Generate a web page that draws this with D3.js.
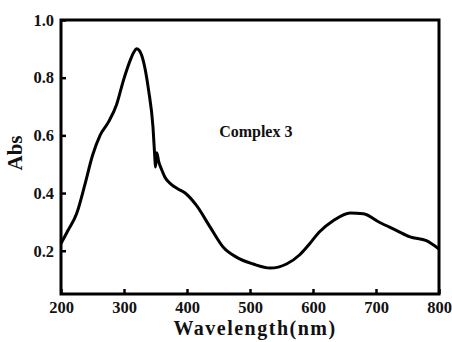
<!DOCTYPE html>
<html>
<head>
<meta charset="utf-8">
<script src="https://cdn.jsdelivr.net/npm/d3@7"></script>
<style>
  html, body { margin: 0; padding: 0; background: #fff; }
  svg { display: block; }
  .axis line { stroke: #000; stroke-width: 2.5px; }
  .axis path { display: none; }
</style>
</head>
<body>
<div id="chart"></div>
<script>
// values
var wavelength = [200, 211, 225, 238, 250, 262, 275, 288, 299, 310, 316, 320, 324, 328, 339, 346,
  349, 350, 352, 355, 360, 365, 375, 385, 397, 415, 437, 458, 479, 505, 532, 558, 579, 595,
  610, 632, 659, 680, 706, 733, 754, 780, 800];
var absorbance = [0.225, 0.27, 0.33, 0.43, 0.53, 0.6, 0.645, 0.705, 0.79, 0.861, 0.89, 0.90, 0.895, 0.878, 0.757, 0.629,
  0.52, 0.49, 0.54, 0.51, 0.48, 0.455, 0.43, 0.415, 0.40, 0.357, 0.281, 0.211, 0.177, 0.154, 0.14, 0.154, 0.186, 0.225,
  0.265, 0.304, 0.331, 0.328, 0.298, 0.27, 0.248, 0.235, 0.206];
var xTicks = [200, 300, 400, 500, 600, 700, 800];
var yTicks = [0.2, 0.4, 0.6, 0.8, 1.0];
var xLabel = "Wavelength(nm)";
var yLabel = "Abs";
var seriesLabel = "Complex 3";

var svgWidth = 452, svgHeight = 342;
var margin = { top: 20, right: 13, bottom: 48, left: 61 };
var width = svgWidth - margin.left - margin.right;
var height = svgHeight - margin.top - margin.bottom;
var serif = "'Liberation Serif', 'Times New Roman', serif";

var x = d3.scaleLinear().domain([200, 800]).range([0, width]);
var y = d3.scaleLinear().domain([0.05, 1.0]).range([height, 0]);

var svg = d3.select("#chart").append("svg")
  .attr("width", svgWidth)
  .attr("height", svgHeight);

var g = svg.append("g")
  .attr("transform", "translate(" + margin.left + "," + margin.top + ")");

// inward ticks
g.append("g")
  .attr("class", "axis axis--x")
  .attr("transform", "translate(0," + height + ")")
  .call(d3.axisBottom(x).tickValues(xTicks).tickSize(-5).tickPadding(7).tickFormat(d3.format("d")))
  .attr("font-family", serif)
  .attr("font-size", 16.5)
  .attr("font-weight", "bold");

g.append("g")
  .attr("class", "axis axis--y")
  .call(d3.axisLeft(y).tickValues(yTicks).tickSize(-5).tickPadding(7).tickFormat(d3.format(".1f")))
  .attr("font-family", serif)
  .attr("font-size", 16.5)
  .attr("font-weight", "bold");

g.selectAll(".axis text").attr("fill", "#111");

// spectrum
var line = d3.line()
  .curve(d3.curveMonotoneX)
  .x(function(d) { return x(d[0]); })
  .y(function(d) { return y(d[1]); });

g.append("path")
  .datum(d3.zip(wavelength, absorbance))
  .attr("fill", "none")
  .attr("stroke", "#000")
  .attr("stroke-width", 3)
  .attr("stroke-linejoin", "round")
  .attr("d", line);

// frame
g.append("rect")
  .attr("width", width)
  .attr("height", height)
  .attr("fill", "none")
  .attr("stroke", "#000")
  .attr("stroke-width", 3);

g.append("text")
  .attr("x", x(451))
  .attr("y", y(0.595))
  .attr("font-family", serif)
  .attr("font-weight", "bold")
  .attr("font-size", 16)
  .attr("fill", "#111")
  .text(seriesLabel);

svg.append("text")
  .attr("x", 255)
  .attr("y", 335)
  .attr("text-anchor", "middle")
  .attr("font-family", serif)
  .attr("font-weight", "bold")
  .attr("font-size", 20)
  .attr("letter-spacing", 1.5)
  .attr("fill", "#111")
  .text(xLabel);

svg.append("text")
  .attr("transform", "translate(22,153) rotate(-90)")
  .attr("text-anchor", "middle")
  .attr("font-family", serif)
  .attr("font-weight", "bold")
  .attr("font-size", 21)
  .attr("fill", "#111")
  .text(yLabel);
</script>
</body>
</html>
